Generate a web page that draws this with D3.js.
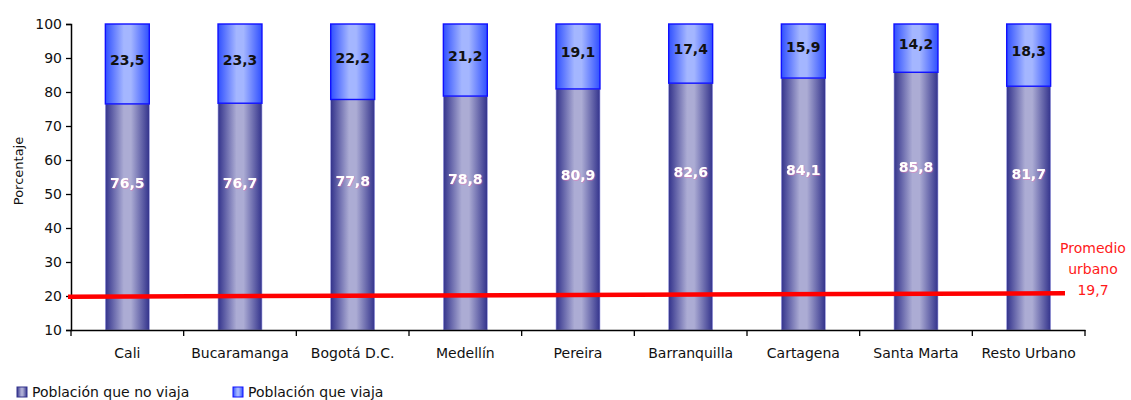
<!DOCTYPE html>
<html>
<head>
<meta charset="utf-8">
<script src="https://cdn.jsdelivr.net/npm/d3@7"></script>
<style>
  html, body { margin: 0; padding: 0; background: #fff; }
  svg { display: block; font-family: "DejaVu Sans", Verdana, sans-serif; }
</style>
</head>
<body>
<svg id="chart" width="1131" height="400"></svg>
<script>
const categories = ["Cali", "Bucaramanga", "Bogotá D.C.", "Medellín", "Pereira", "Barranquilla", "Cartagena", "Santa Marta", "Resto Urbano"];
const noViaja = [76.5, 76.7, 77.8, 78.8, 80.9, 82.6, 84.1, 85.8, 81.7];
const viaja = [23.5, 23.3, 22.2, 21.2, 19.1, 17.4, 15.9, 14.2, 18.3];
const yTicks = [10, 20, 30, 40, 50, 60, 70, 80, 90, 100];
const seriesNames = ["Población que no viaja", "Población que viaja"];
const promedio = 19.7;
const promedioLine = [19.8, 20.8];
const promedioLabel = ["Promedio", "urbano", "19,7"];

const fmt = v => String(v).replace(".", ",");

const svg = d3.select("#chart");
const margin = { left: 71, right: 46, top: 24, bottom: 70 };
const W = 1131, H = 400;

const x = d3.scaleBand().domain(categories).range([margin.left, W - margin.right]).paddingInner(0.61).paddingOuter(0.305);
const y = d3.scaleLinear().domain([10, 100]).range([H - margin.bottom, margin.top]);

const defs = svg.append("defs");
const g1 = defs.append("linearGradient").attr("id", "gNo").attr("x1", "0").attr("x2", "1").attr("y1", "0").attr("y2", "0");
[[0, "#33338c"], [0.42, "#acacd4"], [0.58, "#acacd4"], [1, "#33338c"]].forEach(([o, c]) => g1.append("stop").attr("offset", o).attr("stop-color", c));
const g2 = defs.append("linearGradient").attr("id", "gSi").attr("x1", "0").attr("x2", "1").attr("y1", "0").attr("y2", "0");
[[0, "#3050ff"], [0.42, "#a4b6ff"], [0.58, "#a4b6ff"], [1, "#3050ff"]].forEach(([o, c]) => g2.append("stop").attr("offset", o).attr("stop-color", c));
const filt = defs.append("filter").attr("id", "glow").attr("x", "-20%").attr("y", "-20%").attr("width", "140%").attr("height", "140%");
filt.append("feDropShadow").attr("dx", 0.6).attr("dy", 0.6).attr("stdDeviation", 0.5).attr("flood-color", "#ff66aa").attr("flood-opacity", 0.6);

const data = categories.map((c, i) => ({ c, a: noViaja[i], b: viaja[i] }));

// bars bottom
svg.append("g").selectAll("rect").data(data).join("rect")
  .attr("x", d => x(d.c)).attr("width", x.bandwidth())
  .attr("y", d => y(d.a)).attr("height", d => y(10) - y(d.a))
  .attr("fill", "url(#gNo)").attr("stroke", "#9a9ae0").attr("stroke-width", 0.6);
// bars top
svg.append("g").selectAll("rect").data(data).join("rect")
  .attr("x", d => x(d.c)).attr("width", x.bandwidth())
  .attr("y", d => y(d.a + d.b)).attr("height", d => y(d.a) - y(d.a + d.b))
  .attr("fill", "url(#gSi)").attr("stroke", "#1010ff").attr("stroke-width", 1.4);

// labels
svg.append("g").selectAll("text").data(data).join("text")
  .attr("x", d => x(d.c) + x.bandwidth() / 2)
  .attr("y", d => y((30 + d.a) / 2))
  .attr("dy", "0.35em")
  .attr("text-anchor", "middle").attr("font-weight", "bold").attr("font-size", 14)
  .attr("fill", "#ffffff").attr("filter", "url(#glow)")
  .text(d => fmt(d.a));
svg.append("g").selectAll("text").data(data).join("text")
  .attr("x", d => x(d.c) + x.bandwidth() / 2)
  .attr("y", d => (y(d.a) + y(d.a + d.b)) / 2 - 4)
  .attr("dy", "0.35em")
  .attr("text-anchor", "middle").attr("font-weight", "bold").attr("font-size", 14)
  .attr("fill", "#111")
  .text(d => fmt(d.b));

// axes
const yAxis = svg.append("g").attr("transform", `translate(${margin.left},0)`)
  .call(d3.axisLeft(y).tickValues(yTicks).tickSize(5).tickPadding(4));
yAxis.select(".domain").attr("stroke", "#000").attr("stroke-width", 1.5);
yAxis.selectAll(".tick line").attr("stroke", "#000").attr("stroke-width", 1.3);
yAxis.selectAll("text").attr("font-size", 14).attr("font-family", "DejaVu Sans").attr("fill", "#111");

const xAxis = svg.append("g").attr("transform", `translate(0,${y(10)})`)
  .call(d3.axisBottom(x).tickSize(0).tickPadding(18));
xAxis.select(".domain").attr("stroke", "#000").attr("stroke-width", 1.5);
xAxis.selectAll("text").attr("font-size", 14).attr("font-family", "DejaVu Sans").attr("fill", "#111");
// category separator ticks
const step = x.step();
const sep = d3.range(categories.length + 1).map(i => margin.left + i * step);
xAxis.selectAll(".sep").data(sep).join("line").attr("class", "sep")
  .attr("x1", d => d).attr("x2", d => d).attr("y1", 0).attr("y2", 6)
  .attr("stroke", "#000").attr("stroke-width", 1.3);

// y title
svg.append("text").attr("transform", `translate(18,${(y(10) + y(100)) / 2 - 6}) rotate(-90)`)
  .attr("text-anchor", "middle").attr("dy", "0.35em").attr("font-size", 13).attr("fill", "#111")
  .text("Porcentaje");

// average line
svg.append("line")
  .attr("x1", margin.left - 3).attr("x2", W - margin.right - 20)
  .attr("y1", y(promedioLine[0])).attr("y2", y(promedioLine[1]))
  .attr("stroke", "#ff0000").attr("stroke-width", 4.5);
svg.append("g").selectAll("text").data(promedioLabel).join("text")
  .attr("x", 1093).attr("y", (d, i) => y(promedio) - 49 + i * 21)
  .attr("dy", "0.35em").attr("text-anchor", "middle").attr("font-size", 14).attr("fill", "#ff1a1a")
  .text(d => d);

// legend
const lg = svg.append("g").attr("transform", "translate(17,392)");
const lgx = [0, 216];
seriesNames.forEach((n, i) => {
  const gg = lg.append("g").attr("transform", `translate(${lgx[i]},0)`);
  gg.append("rect").attr("x", 0).attr("y", -5).attr("width", 10).attr("height", 10)
    .attr("fill", i === 0 ? "url(#gNo)" : "url(#gSi)").attr("stroke", i === 0 ? "#33338c" : "#1010ff").attr("stroke-width", 1);
  gg.append("text").attr("x", 15).attr("dy", "0.35em").attr("font-size", 14).attr("fill", "#111").text(n);
});
</script>
</body>
</html>
